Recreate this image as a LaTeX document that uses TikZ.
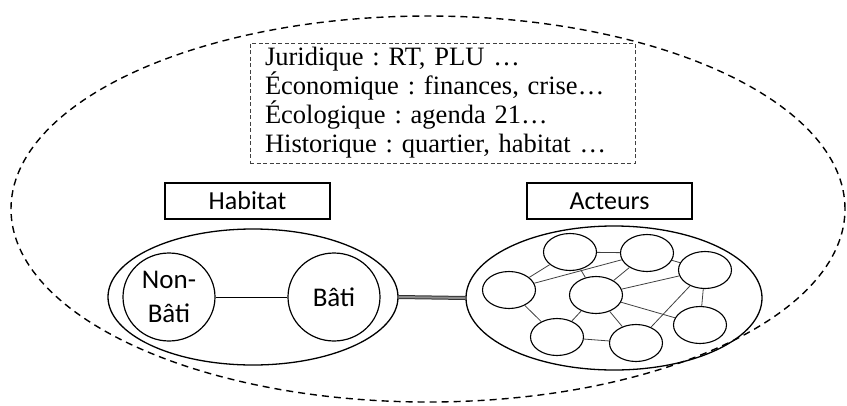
\documentclass[tikz,border=0pt]{standalone}
\usepackage{fontspec}
\setmainfont{Liberation Serif}
\newfontfamily\calib{Carlito}
\usetikzlibrary{shapes.geometric}
\frenchspacing
\begin{document}
\begin{tikzpicture}[x=1pt,y=-1pt,
  outerdash/.style={draw, line width=1.4pt, dash pattern=on 7pt off 5pt},
  labelbox/.style={draw, line width=1.3pt, minimum width=165pt, minimum height=36pt, inner sep=0pt, font=\calib\fontsize{26}{28}\selectfont},
  bigell/.style={draw, ellipse, line width=1.3pt, inner sep=0pt},
  bcirc/.style={draw, ellipse, line width=1.2pt, minimum width=92pt, minimum height=88pt, inner sep=0pt, align=center, font=\calib\fontsize{27}{34}\selectfont},
  actor/.style={draw, ellipse, line width=1.1pt, minimum width=53pt, minimum height=37pt, inner sep=0pt},
  link/.style={line width=0.8pt, black!75}
]
\useasboundingbox (0,0) rectangle (847,405);
% outer dashed ellipse
\node[outerdash, ellipse, minimum width=834pt, minimum height=386pt, inner sep=0pt] (outer) at (428,209) {};
% text box
\node[draw, black!75, line width=1pt, dash pattern=on 4pt off 2.5pt, text=black,
      text width=355pt, inner xsep=15pt, inner ysep=3pt, minimum height=120pt, align=left,
      font=\fontsize{26.5}{29}\selectfont] (ctx) at (442.5,103)
  {Juridique : RT, PLU \ldots\\
   Économique : finances, crise\ldots\\
   Écologique : agenda 21\ldots\\
   Historique : quartier, habitat \ldots};
% labels
\node[labelbox] (habitat) at (247.5,201) {Habitat};
\node[labelbox] (acteurs) at (609.5,201) {Acteurs};
% habitat ellipse
\node[bigell, minimum width=290pt, minimum height=136pt] (hab) at (253,297) {};
\node[bcirc] (nonbati) at (169,297) {Non-\\Bâti};
\node[bcirc] (bati) at (334,297) {Bâti};
\draw[line width=1pt] (nonbati) -- (bati);
% acteurs ellipse
\node[bigell, minimum width=296pt, minimum height=144pt] (act) at (614,298) {};
\draw[line width=1pt, draw=black!80, double=black!45, double distance=2pt] (hab.east) -- (act.west);
% actors
\node[actor] (c1) at (570,252) {};
\node[actor] (c2) at (647,253) {};
\node[actor] (c3) at (705,270) {};
\node[actor] (c4) at (509,290) {};
\node[actor] (c5) at (596,295) {};
\node[actor] (c6) at (700,325) {};
\node[actor] (c7) at (557,337) {};
\node[actor] (c8) at (636,343) {};
\draw[link] (c1) -- (c2);
\draw[link] (c1) -- (c4);
\draw[link] (c4) -- (c2);
\draw[link] (c1) -- (c5);
\draw[link] (c2) -- (c5);
\draw[link] (c2) -- (c3);
\draw[link] (c5) -- (c3);
\draw[link] (c3) -- (c6);
\draw[link] (c4) -- (c7);
\draw[link] (c5) -- (c7);
\draw[link] (c5) -- (c8);
\draw[link] (c5) -- (c6);
\draw[link] (c7) -- (c8);
\draw[link] (c8) -- (c3);
\end{tikzpicture}
\end{document}
